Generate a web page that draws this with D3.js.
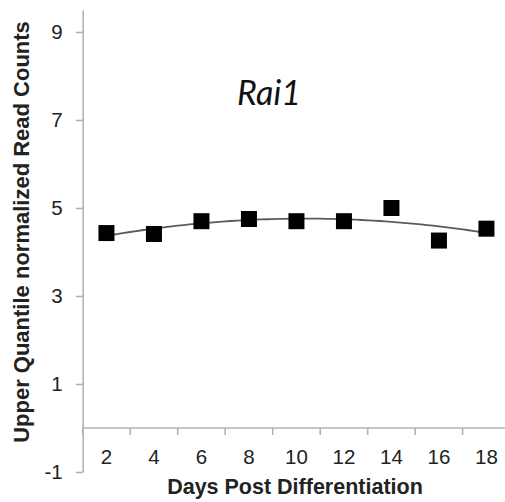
<!DOCTYPE html>
<html>
<head>
<meta charset="utf-8">
<script src="https://cdn.jsdelivr.net/npm/d3@7"></script>
<style>
  html, body { margin: 0; padding: 0; background: #fff; }
  svg { display: block; }
</style>
</head>
<body>
<svg id="chart" width="505" height="502"></svg>
<script>
// ---- data ----
const days = [2, 4, 6, 8, 10, 12, 14, 16, 18];
const readCounts = [4.43, 4.41, 4.70, 4.75, 4.70, 4.70, 5.00, 4.26, 4.53];
const yTicks = [-1, 1, 3, 5, 7, 9];
const chartTitle = "Rai1";
const xTitle = "Days Post Differentiation";
const yTitle = "Upper Quantile normalized Read Counts";

const svg = d3.select("#chart");
const axisColor = "#b3b3b3";
const font = "'Liberation Sans', Arial, sans-serif";

const x = d3.scaleBand().domain(days).range([82.7, 82.7 + 47.5 * days.length]).padding(0);
const y = d3.scaleLinear().domain([-1, 9.5]).range([472, 10]);

// y axis
const yAxis = svg.append("g")
  .attr("transform", "translate(82.7,0)")
  .call(d3.axisLeft(y).tickValues(yTicks).tickFormat(d => String(d))
    .tickSize(7).tickSizeOuter(0).tickPadding(13));
yAxis.select(".domain").attr("stroke", axisColor).attr("stroke-width", 1.6);
yAxis.selectAll(".tick line").attr("stroke", axisColor).attr("stroke-width", 1.6);
yAxis.selectAll(".tick text")
  .attr("font-family", font).attr("font-size", 20.5).attr("fill", "#222");

// x axis (line at y=0)
const x0 = y(0);
const xg = svg.append("g").attr("transform", `translate(0,${x0})`);
xg.append("line")
  .attr("x1", 82.7).attr("x2", 505)
  .attr("stroke", axisColor).attr("stroke-width", 1.6);
xg.selectAll("line.tk").data(days).join("line")
  .attr("class", "tk")
  .attr("x1", d => x(d)).attr("x2", d => x(d))
  .attr("y1", 0).attr("y2", 7)
  .attr("stroke", axisColor).attr("stroke-width", 1.6);
xg.selectAll("text.lbl").data(days).join("text")
  .attr("class", "lbl")
  .attr("x", d => x(d) + x.bandwidth() / 2)
  .attr("y", 35.5)
  .attr("text-anchor", "middle")
  .attr("font-family", font).attr("font-size", 20.5).attr("fill", "#222")
  .text(d => d);

// quadratic trend line (least squares from the data)
function quadFit(xs, ys) {
  const n = xs.length;
  let s = [0,0,0,0,0], t = [0,0,0];
  for (let i = 0; i < n; i++) {
    const xi = xs[i];
    for (let k = 0; k < 5; k++) s[k] += Math.pow(xi, k);
    for (let k = 0; k < 3; k++) t[k] += ys[i] * Math.pow(xi, k);
  }
  const M = [[s[0], s[1], s[2], t[0]], [s[1], s[2], s[3], t[1]], [s[2], s[3], s[4], t[2]]];
  for (let i = 0; i < 3; i++) {
    for (let j = i + 1; j < 3; j++) {
      const f = M[j][i] / M[i][i];
      for (let k = i; k < 4; k++) M[j][k] -= f * M[i][k];
    }
  }
  const c = [0,0,0];
  for (let i = 2; i >= 0; i--) {
    let v = M[i][3];
    for (let k = i + 1; k < 3; k++) v -= M[i][k] * c[k];
    c[i] = v / M[i][i];
  }
  return c;
}
const coef = quadFit(days, readCounts);
const trend = d3.range(days[0], days[days.length - 1] + 0.001, 0.25)
  .map(d => ({ d, v: coef[0] + coef[1] * d + coef[2] * d * d }));
const xCenter = d => x(days[0]) + x.bandwidth() / 2 + (d - days[0]) / 2 * x.step();
svg.append("path")
  .datum(trend)
  .attr("fill", "none")
  .attr("stroke", "#5a5a5a")
  .attr("stroke-width", 1.8)
  .attr("d", d3.line().x(p => xCenter(p.d)).y(p => y(p.v)));

// markers
const sz = 16;
svg.selectAll("rect.pt").data(days).join("rect")
  .attr("class", "pt")
  .attr("x", (d) => x(d) + x.bandwidth() / 2 - sz / 2)
  .attr("y", (d, i) => y(readCounts[i]) - sz / 2)
  .attr("width", sz).attr("height", sz)
  .attr("fill", "#000");

// titles
svg.append("text")
  .attr("x", 237).attr("y", 105)
  .attr("font-family", "Lato, 'Open Sans', sans-serif")
  .attr("font-style", "italic")
  .attr("font-size", 34)
  .attr("fill", "#111")
  .text(chartTitle);

svg.append("text")
  .attr("x", 295).attr("y", 494)
  .attr("text-anchor", "middle")
  .attr("font-family", font).attr("font-weight", "bold").attr("font-size", 21.5)
  .attr("fill", "#222")
  .text(xTitle);

svg.append("text")
  .attr("transform", "translate(29,232) rotate(-90)")
  .attr("text-anchor", "middle")
  .attr("font-family", font).attr("font-weight", "bold").attr("font-size", 22)
  .attr("fill", "#222")
  .text(yTitle);
</script>
</body>
</html>
